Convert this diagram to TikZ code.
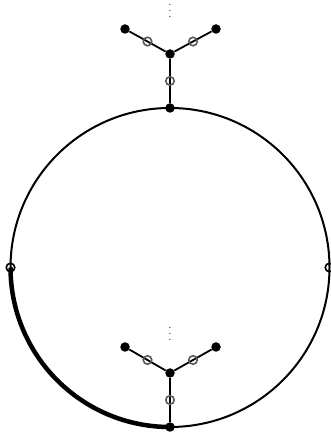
\documentclass[tikz,border=0pt]{standalone}
\usetikzlibrary{positioning,calc}
\newcommand{\tallvdots}{\vbox{\baselineskip6pt\lineskiplimit0pt\hbox{\large.}\hbox{\large.}\hbox{\large.}}}

\begin{document}
\begin{tikzpicture}[
        x=1pt, y=1pt,
        dot/.style={circle, fill=black, inner sep=0pt, minimum size=9.5pt},
        ring/.style={circle, draw=black!65, line width=1.6pt, inner sep=0pt, minimum size=8.5pt},
        sidering/.style={circle, draw=black, line width=1.6pt, inner sep=0pt, minimum size=8.5pt},
        edge/.style={line width=1.8pt},
        rim/.style={line width=2pt},
        more/.style={inner sep=0pt}
    ]
    \useasboundingbox (0,0) rectangle (330,435);

    % --- big circle ---
    \coordinate (centre) at (170,167.5);
    \draw[rim] (centre) circle (159.5);
    \node (west) [sidering] at (10.5,167.5) {};
    \node (east) [sidering] at (329.5,167.5) {};

    % --- upper tree ---
    \node (root1) [dot] at (170,327) {};
    \node (mid1) [dot] at (170,381) {};
    \node (leafl1) [dot] at (125,406) {};
    \node (leafr1) [dot] at (216,406) {};
    \node (more1) [more] at (170,424) {\tallvdots};

    \draw[edge] (root1) -- node[ring] (ringc1) {} (mid1);
    \draw[edge] (mid1) -- node[ring] (ringl1) {} (leafl1);
    \draw[edge] (mid1) -- node[ring] (ringr1) {} (leafr1);

    % --- lower tree ---
    \node (root2) [dot] at (170,8) {};
    \node (mid2) [dot] at (170,62) {};
    \node (leafl2) [dot] at (125,88) {};
    \node (leafr2) [dot] at (216,88) {};
    \node (more2) [more] at (170,101) {\tallvdots};

    % thick part of the rim, from west down to the lower root
    \draw[line width=4.5pt] (west.center) arc[start angle=180, end angle=270, radius=159.5];

    \draw[edge] (root2) -- node[ring] (ringc2) {} (mid2);
    \draw[edge] (mid2) -- node[ring] (ringl2) {} (leafl2);
    \draw[edge] (mid2) -- node[ring] (ringr2) {} (leafr2);
\end{tikzpicture}
\end{document}
